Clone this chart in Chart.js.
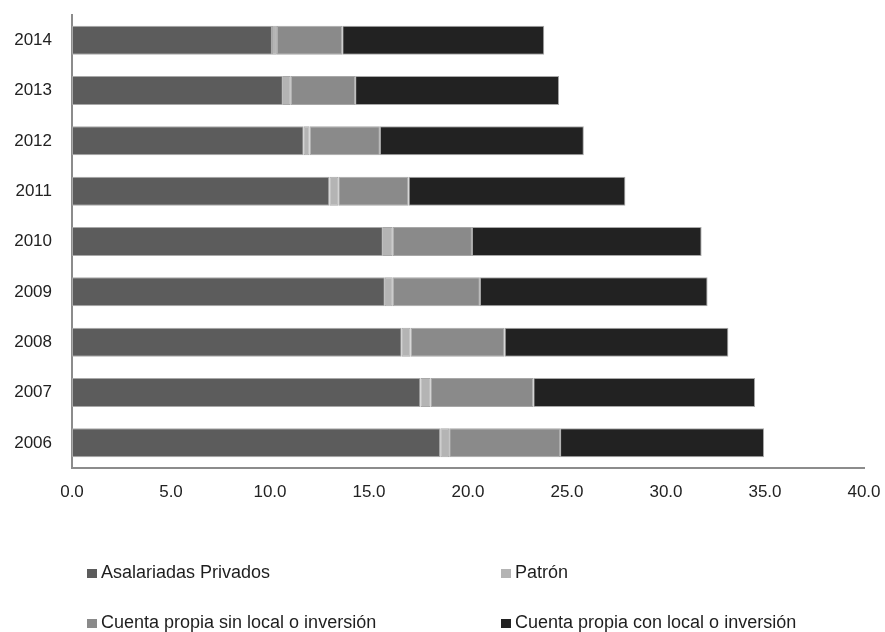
<!DOCTYPE html>
<html>
<head>
<meta charset="utf-8">
<script src="https://cdn.jsdelivr.net/npm/chart.js@4.4.1/dist/chart.umd.min.js"></script>
<style>
  html, body { margin: 0; padding: 0; background: #fff; }
  #wrap { position: relative; width: 885px; height: 632px; overflow: hidden; }
  #c { position: absolute; left: 0; top: 0; }
  .lg { position: absolute; font-family: 'Liberation Sans', Arial, sans-serif; font-size: 18px; color: #1e1e1e; white-space: nowrap; line-height: 18px; }
  .lg span.sw { display: inline-block; width: 10px; height: 9px; margin-right: 4px; vertical-align: baseline; }
</style>
</head>
<body>
<div id="wrap">
  <canvas id="c" width="885" height="632"></canvas>
</div>
<script>
const years = ['2014','2013','2012','2011','2010','2009','2008','2007','2006'];
const asalariados = [10.1, 10.65, 11.7, 13.0, 15.7, 15.8, 16.65, 17.6, 18.6];
const patron      = [0.25, 0.4, 0.3, 0.45, 0.5, 0.4, 0.45, 0.5, 0.45];
const sinLocal    = [3.3, 3.25, 3.55, 3.55, 4.0, 4.4, 4.75, 5.2, 5.6];
const conLocal    = [10.2, 10.3, 10.3, 10.95, 11.6, 11.5, 11.3, 11.2, 10.3];
const seriesNames = ['Asalariadas  Privados', 'Patrón', 'Cuenta propia sin local o inversión', 'Cuenta propia con local o inversión'];
const seriesColors = ['#5c5c5c', '#b4b4b4', '#8a8a8a', '#222222'];
const xTicks = [0, 5, 10, 15, 20, 25, 30, 35, 40];

const FONT = "'Liberation Sans', Arial, sans-serif";
const values = [asalariados, patron, sinLocal, conLocal];

const chart = new Chart(document.getElementById('c'), {
  type: 'bar',
  data: {
    labels: years,
    datasets: values.map((v, i) => ({
      label: seriesNames[i],
      data: v,
      backgroundColor: seriesColors[i],
      borderColor: '#a8a8a8',
      borderWidth: 1,
      borderSkipped: false,
      categoryPercentage: 1,
      barPercentage: 0.577
    }))
  },
  options: {
    indexAxis: 'y',
    responsive: false,
    animation: false,
    layout: { padding: { left: 0, right: 21, top: 15, bottom: 124 } },
    plugins: { legend: { display: false }, tooltip: { enabled: false } },
    scales: {
      x: {
        stacked: true,
        min: 0, max: 40,
        afterBuildTicks: s => { s.ticks = xTicks.map(v => ({ value: v })); },
        afterFit: s => { s.height = 40; s.paddingLeft = 0; s.paddingRight = 0; },
        grid: { display: false, drawTicks: false },
        border: { display: true, color: '#8c8c8c', width: 2 },
        ticks: { padding: 14, color: '#222', font: { family: FONT, size: 17 }, callback: v => Number(v).toFixed(1), maxRotation: 0 }
      },
      y: {
        stacked: true,
        afterFit: s => { s.width = 72; s.paddingTop = 0; s.paddingBottom = 0; },
        grid: { display: false, drawTicks: false },
        border: { display: true, color: '#8c8c8c', width: 2 },
        ticks: { padding: 20, color: '#222', font: { family: FONT, size: 17 } }
      }
    }
  }
});

// HTML legend built from the datasets, laid out as a 2x2 grid
const legendPos = [[87, 563], [501, 563], [87, 613], [501, 613]];
chart.data.datasets.forEach((ds, i) => {
  const d = document.createElement('div');
  d.className = 'lg';
  d.style.left = legendPos[i][0] + 'px';
  d.style.top = legendPos[i][1] + 'px';
  const sw = document.createElement('span');
  sw.className = 'sw';
  sw.style.background = ds.backgroundColor;
  d.appendChild(sw);
  d.appendChild(document.createTextNode(ds.label));
  document.getElementById('wrap').appendChild(d);
});
</script>
</body>
</html>
